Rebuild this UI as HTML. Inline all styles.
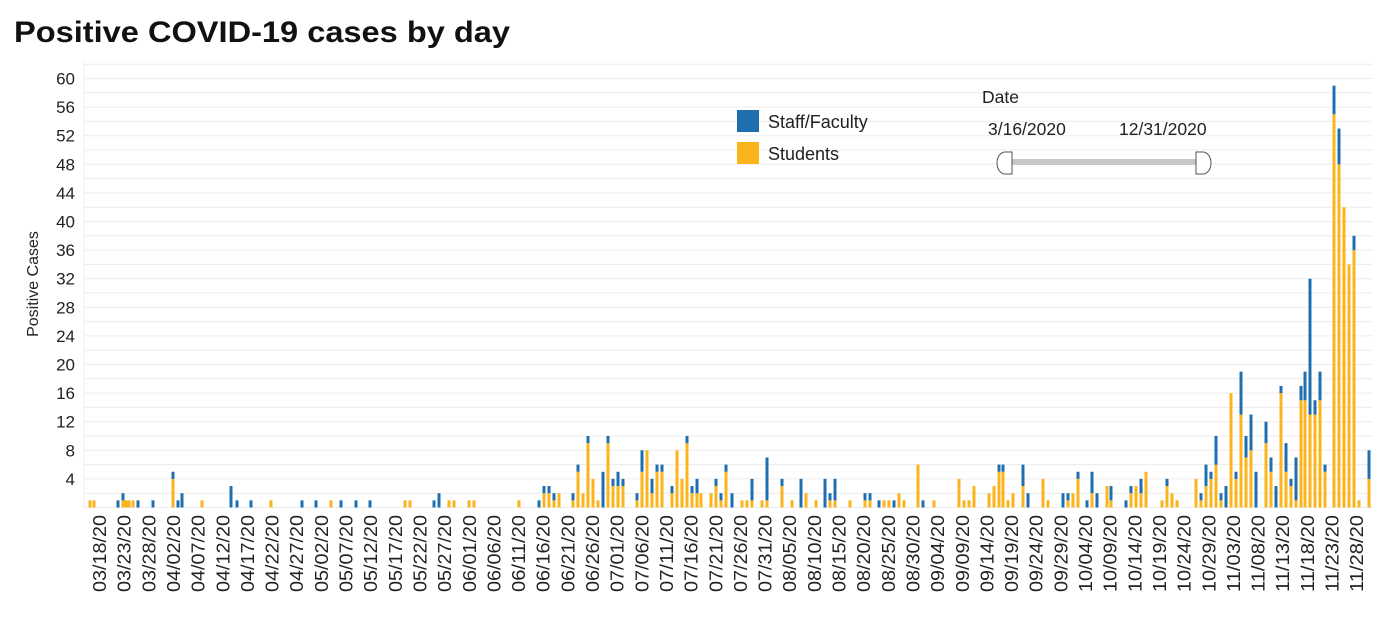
<!DOCTYPE html>
<html><head><meta charset="utf-8"><style>
html,body{margin:0;padding:0;background:#fff;}
svg{display:block;font-family:"Liberation Sans",Arial,sans-serif;}
</style></head><body>
<svg id="c" width="1400" height="620" xmlns="http://www.w3.org/2000/svg">
<text x="14" y="42" font-size="30" font-weight="bold" fill="#111" textLength="496" lengthAdjust="spacingAndGlyphs">Positive COVID-19 cases by day</text>
<g id="grid"></g>
<g id="bars"></g>
<g id="xl" font-size="18" fill="#222"></g>
<g id="yl" font-size="17" fill="#222" text-anchor="end"></g>
<text transform="translate(38,284) rotate(-90)" font-size="16" fill="#222" text-anchor="middle">Positive Cases</text>
<rect x="737" y="110" width="22" height="22" fill="#1f6fb0"/>
<rect x="737" y="142" width="22" height="22" fill="#fbb41c"/>
<text x="768" y="128" font-size="18" fill="#222">Staff/Faculty</text>
<text x="768" y="160" font-size="18" fill="#222">Students</text>
<text x="982" y="103" font-size="17.5" fill="#222">Date</text>
<text x="988" y="135" font-size="17.5" fill="#222">3/16/2020</text>
<text x="1119" y="135" font-size="17.5" fill="#222">12/31/2020</text>
<rect x="1012" y="159" width="184" height="6" fill="#c8c8c8"/>
<path d="M1012,152 L1005,152 A8,11 0 0 0 1005,174 L1012,174 Z" fill="#fff" stroke="#555" stroke-width="1"/>
<path d="M1196,152 L1203,152 A8,11 0 0 1 1203,174 L1196,174 Z" fill="#fff" stroke="#555" stroke-width="1"/>
</svg>
<script>
var NS="http://www.w3.org/2000/svg";
function el(t,a,p,txt){var e=document.createElementNS(NS,t);for(var k in a)e.setAttribute(k,a[k]);if(txt)e.textContent=txt;document.getElementById(p).appendChild(e);return e;}
var Y0=507.5,U=7.15;
for(var v=0;v<=62;v+=2){var y=Y0-v*U;el("line",{x1:84,x2:1372,y1:y,y2:y,stroke:"#ececec","stroke-width":1},"grid");}
el("line",{x1:84,x2:84,y1:62,y2:508,stroke:"#eee"},"grid");
for(var v=4;v<=60;v+=4){el("text",{x:75,y:Y0-v*U+6},"yl",""+v);}
var d=[[90,1,0],[94,1,0],[118,0,1],[123,1,1],[126,1,0],[129,1,0],[133,1,0],[138,0,1],[153,0,1],[173,4,1],[178,0,1],[182,0,2],[202,1,0],[231,0,3],[237,0,1],[251,0,1],[271,1,0],[302,0,1],[316,0,1],[331,1,0],[341,0,1],[356,0,1],[370,0,1],[405,1,0],[410,1,0],[434,0,1],[439,0,2],[449,1,0],[454,1,0],[469,1,0],[474,1,0],[519,1,0],
[539,0,1],[544,2,1],[549,2,1],[554,1,1],[559,2,0],[573,1,1],[578,5,1],[583,2,0],[588,9,1],[593,4,0],[598,1,0],[603,0,5],[608,9,1],[613,3,1],[618,3,2],[623,3,1],[637,1,1],[642,5,3],[647,8,0],[652,2,2],[657,5,1],[662,5,1],[672,2,1],[677,8,0],[682,4,0],[687,9,1],[692,2,1],[697,2,2],[701,2,0],[711,2,0],[716,3,1],[721,1,1],[726,5,1],[732,0,2],[742,1,0],[747,1,0],[752,1,3],[762,1,0],[767,1,6],[782,3,1],[792,1,0],[801,0,4],[806,2,0],[816,1,0],[825,0,4],[830,1,1],[835,1,3],[850,1,0],[865,1,1],[870,1,1],[879,0,1],[884,1,0],[889,1,0],[894,0,1],[899,2,0],[904,1,0],[918,6,0],[923,0,1],[934,1,0],
[959,4,0],[964,1,0],[969,1,0],[974,3,0],[989,2,0],[994,3,0],[999,5,1],[1003,5,1],[1008,1,0],[1013,2,0],[1023,3,3],[1028,0,2],[1043,4,0],[1048,1,0],[1063,0,2],[1068,1,1],[1073,2,0],[1078,4,1],[1087,0,1],[1092,2,3],[1097,0,2],[1107,3,0],[1111,1,2],[1126,0,1],[1131,2,1],[1136,3,0],[1141,2,2],[1146,5,0],[1162,1,0],[1167,3,1],[1172,2,0],[1177,1,0],
[1196,4,0],[1201,1,1],[1206,3,3],[1211,4,1],[1216,6,4],[1221,1,1],[1226,0,3],[1231,16,0],[1236,4,1],[1241,13,6],[1246,7,3],[1251,8,5],[1256,0,5],[1266,9,3],[1271,5,2],[1276,0,3],[1281,16,1],[1286,5,4],[1291,3,1],[1296,1,6],[1301,15,2],[1305,15,4],[1310,13,19],[1315,13,2],[1320,15,4],[1325,5,1],[1334,55,4],[1339,48,5],[1344,42,0],[1349,34,0],[1354,36,2],[1359,1,0],[1369,4,4]];
d.forEach(function(b){var x=b[0]-1.5,w=3;
 if(b[1]>0)el("rect",{x:x,y:Y0-b[1]*U,width:w,height:b[1]*U,fill:"#fbb41c"},"bars");
 if(b[2]>0)el("rect",{x:x,y:Y0-(b[1]+b[2])*U,width:w,height:b[2]*U,fill:"#1f6fb0"},"bars");
});
var start=new Date(2020,2,18);
for(var i=0;i<=51;i++){var dt=new Date(start.getTime()+i*5*86400000);
 var s=("0"+(dt.getMonth()+1)).slice(-2)+"/"+("0"+dt.getDate()).slice(-2)+"/20";
 var x=106+i*24.65;
 el("text",{transform:"translate("+x+",515) rotate(-90)","text-anchor":"end",textLength:77,lengthAdjust:"spacingAndGlyphs"},"xl",s);}
</script>
</body></html>
